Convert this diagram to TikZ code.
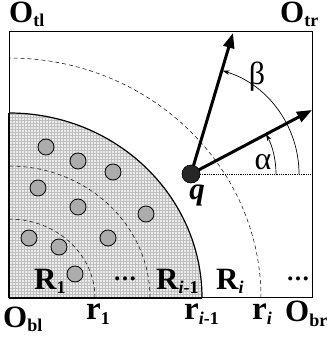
\documentclass[tikz,border=0pt]{standalone}
\usepackage{fontspec}
\setmainfont{Liberation Serif}
\usetikzlibrary{arrows.meta}
\newcommand\lsub[1]{\raisebox{-4pt}{\fontsize{18}{18}\selectfont #1}}
\newcommand\tdots{{\fontsize{17}{17}\selectfont\textbullet\kern1.8pt\textbullet\kern1.8pt\textbullet}}
\begin{document}
\begin{tikzpicture}[x=1pt,y=1pt,
  lbl/.style={inner sep=0pt, anchor=base west, font=\bfseries\fontsize{31}{31}\selectfont},
  rlbl/.style={inner sep=0pt, anchor=base west, font=\bfseries\fontsize{33}{33}\selectfont},
  dotlbl/.style={inner sep=0pt, anchor=center},
  dotc/.style={circle, draw=black, line width=0.8pt, fill=gray!65, minimum size=16pt, inner sep=0pt},
  dsh/.style={dash pattern=on 4pt off 3pt, line width=0.5pt},
  bigarrow/.style={line width=3pt, -{Triangle[length=15pt,width=11pt]}},
  anglearc/.style={line width=0.7pt, -{Stealth[length=7pt,width=4.5pt]}},
  greek/.style={inner sep=0pt, font=\fontsize{32}{32}\selectfont}]
\useasboundingbox (0,0) rectangle (326,339);
% shaded quarter
\begin{scope}
\clip (9,41) -- (202,41) arc[start angle=0,end angle=90,x radius=193,y radius=185] -- cycle;
\fill[gray!15] (9,41) rectangle (202,226);
\draw[gray!50, line width=0.35pt, step=3] (9,41) grid (202,226);
\end{scope}
\draw[line width=1.2pt] (202,41) arc[start angle=0,end angle=90,x radius=193,y radius=185];
\draw[line width=2pt] (9,41) -- (9,226);
\draw[line width=2pt] (9,41) -- (202,41);
% box
\draw[line width=1pt] (9,41) rectangle (312,307);
% dashed arcs
\draw[dsh] (95,41) arc[start angle=0,end angle=90,x radius=86,y radius=79];
\draw[dsh] (150,41) arc[start angle=0,end angle=90,x radius=141,y radius=132];
\draw[dsh] (261,41) arc[start angle=0,end angle=90,x radius=252,y radius=240];
% points
\foreach \p/\n in {{(46,192)}/c1,{(78,178)}/c2,{(113,167)}/c3,{(38,151)}/c4,{(78,132)}/c5,{(146,125)}/c6,{(29,101)}/c7,{(59,92)}/c8,{(108,101)}/c9,{(75,65)}/c10}
  \node[dotc] (\n) at \p {};
% q
\coordinate (qr) at (312,165);
\coordinate (a1) at (312,229);
\coordinate (a2) at (233,306);
\node[circle, fill=black!85, draw=black, minimum size=18pt, inner sep=0pt] (q) at (191,165) {};
\draw[densely dotted, line width=0.8pt] (q.center) -- (qr);
\draw[bigarrow] (q.center) -- (a1);
\draw[bigarrow] (q.center) -- (a2);
\node[circle, fill=black!85, draw=black, minimum size=18pt, inner sep=0pt] at (q) {};
\draw[anglearc] (276,165) arc[start angle=0,end angle=28,radius=85];
\draw[anglearc] (299,165) arc[start angle=0,end angle=73,radius=108];
\node[greek] (alpha) at (263,177) {α};
\node[greek] (beta) at (257,262) {β};
\node[inner sep=0pt, anchor=base, font=\bfseries\itshape\fontsize{31}{31}\selectfont] (ql) at (197,139) {q};
% corner labels
\node[lbl] (otl) at (9,316) {O\lsub{tl}};
\node[lbl] (otr) at (280,316) {O\lsub{tr}};
\node[lbl] (obl) at (3,12) {O\lsub{bl}};
\node[lbl] (obr) at (285,17) {O\lsub{br}};
% r labels
\node[rlbl] (r1) at (86,19) {r\lsub{1}};
\node[rlbl] (ri1) at (184,19) {r\lsub{\textit{i}-1}};
\node[rlbl] (ri) at (252,19) {r\lsub{\textit{i}}};
% R labels
\node[lbl] (R1) at (34,49) {R\lsub{1}};
\node[dotlbl] (d1) at (125,58) {\tdots};
\node[lbl] (Ri1) at (156,49) {R\lsub{\textit{i}-1}};
\node[lbl] (Ri) at (216,49) {R\lsub{\textit{i}}};
\node[dotlbl] (d2) at (298,58) {\tdots};
\end{tikzpicture}
\end{document}
